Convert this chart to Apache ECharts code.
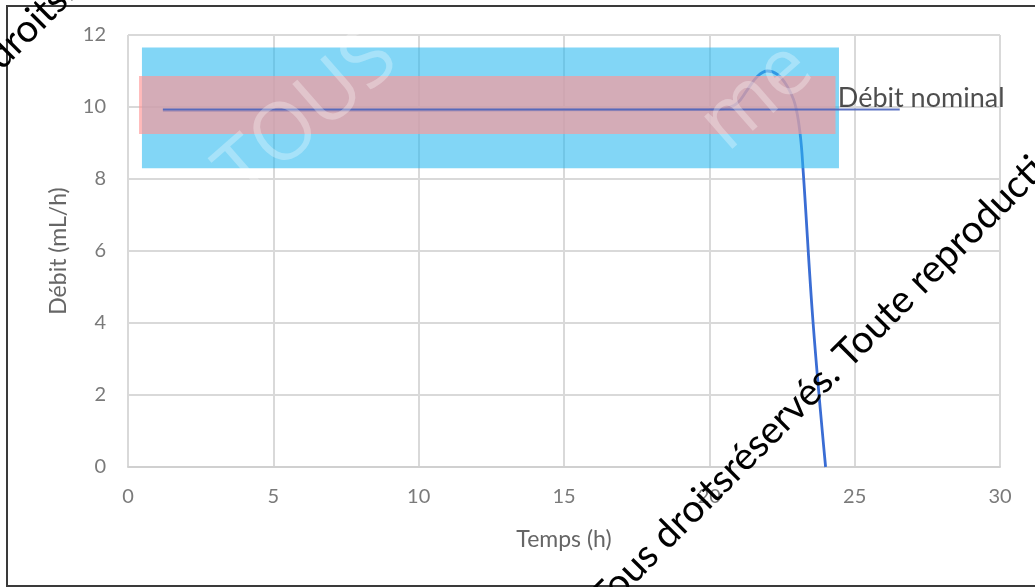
<!DOCTYPE html>
<html>
<head>
<meta charset="utf-8">
<script src="https://cdn.jsdelivr.net/npm/echarts@6/dist/echarts.min.js"></script>
<style>
html,body{margin:0;padding:0;background:#fff;}
#c{width:1035px;height:587px;}
</style>
</head>
<body>
<div id="c"></div>
<script>
// ---- data ----
const curveX = [1.2, 5, 10, 15, 20, 20.5, 20.95, 21.3, 21.65, 22.0, 22.35, 22.66, 22.94, 23.12, 23.23, 23.57, 24.0];
const curveY = [9.9, 9.9, 9.91, 9.92, 9.93, 9.95, 10.1, 10.47, 10.85, 11.0, 10.9, 10.6, 10.1, 9.28, 8.2, 4.0, 0];
const nominalX = [1.2, 26.55];
const nominalY = [9.93, 9.93];
const nominalLabel = 'Débit nominal';
const nominalLabelX = 24.42;
const bandX0 = [0.48, 0.38];
const bandX1 = [24.46, 24.34];
const bandY0 = [8.3, 9.25];
const bandY1 = [11.65, 10.86];
const xTicks = [0, 5, 10, 15, 20, 25, 30];
const yTicks = [0, 2, 4, 6, 8, 10, 12];
const xTitle = 'Temps (h)';
const yTitle = 'Débit (mL/h)';
const watermark = 'Tous droitsréservés. Toute reproduction interdite';

// ---- build ----
const bandColors = ['rgba(40,185,240,0.58)', 'rgba(255,150,150,0.66)'];
const curve = curveX.map((x, i) => [x, curveY[i]]);
const nominal = nominalX.map((x, i) => [x, nominalY[i]]);
const bands = bandX0.map((x, i) => [x, bandY0[i], bandX1[i], bandY1[i]]);

const FONT = 'Lato, "Open Sans", sans-serif';
const wmSize = 38.5;
const ctx = document.createElement('canvas').getContext('2d');
ctx.font = wmSize + 'px Lato';
const pre1 = ctx.measureText('Tous droitsréservés. ').width;
const pre2 = ctx.measureText('Tous ').width;
const ang = Math.PI / 4;
const ux = Math.cos(ang), uy = -Math.sin(ang);
const dx = Math.sin(ang), dy = Math.cos(ang);
const desc = 0.22 * wmSize;
function anchor(bx, by, pre) {
  return [bx - pre * ux + desc * dx, by - pre * uy + desc * dy];
}
const a1 = anchor(848, 369, pre1);
const a2 = anchor(1, 70, pre2);

const chart = echarts.init(document.getElementById('c'), null, {renderer: 'canvas'});
chart.setOption({
  animation: false,
  backgroundColor: '#fff',
  grid: {left: 128, right: 35, top: 35, bottom: 120},
  xAxis: {
    type: 'value', min: xTicks[0], max: xTicks[xTicks.length - 1], interval: 5,
    axisLine: {show: true, lineStyle: {color: '#d0d0d0', width: 2}},
    axisTick: {show: false},
    splitLine: {show: true, lineStyle: {color: '#d9d9d9', width: 2}},
    axisLabel: {color: '#7a7a7a', fontSize: 20, fontFamily: FONT, margin: 20},
    name: xTitle, nameLocation: 'middle', nameGap: 61,
    nameTextStyle: {color: '#666', fontSize: 23, fontFamily: FONT}
  },
  yAxis: {
    type: 'value', min: yTicks[0], max: yTicks[yTicks.length - 1], interval: 2,
    axisLine: {show: false},
    axisTick: {show: false},
    splitLine: {show: true, lineStyle: {color: '#d9d9d9', width: 2}},
    axisLabel: {color: '#7a7a7a', fontSize: 20, fontFamily: FONT, margin: 22},
    name: yTitle, nameLocation: 'middle', nameGap: 58, nameRotate: 90,
    nameTextStyle: {color: '#666', fontSize: 23, fontFamily: FONT}
  },
  series: [
    {
      type: 'line', data: curve, symbol: 'none', z: 2, smooth: 0.4,
      lineStyle: {color: '#3a6dd4', width: 2.8}, silent: true
    },
    {
      type: 'custom', z: 3, silent: true,
      data: bands,
      encode: {x: [0, 2], y: [1, 3]},
      renderItem: function (params, api) {
        const p0 = api.coord([api.value(0), api.value(3)]);
        const p1 = api.coord([api.value(2), api.value(1)]);
        return {
          type: 'rect',
          shape: {x: p0[0], y: p0[1], width: p1[0] - p0[0], height: p1[1] - p0[1]},
          style: {fill: bandColors[params.dataIndex]}
        };
      }
    },
    {
      type: 'line', data: nominal, symbol: 'none', z: 4,
      lineStyle: {color: '#4b64bd', width: 2, opacity: 0.9}, silent: true
    },
    {
      type: 'scatter', z: 6, silent: true,
      data: [{value: [nominalLabelX, nominalY[0]], name: nominalLabel}],
      symbolSize: 0,
      label: {
        show: true, position: 'right', distance: 0, offset: [0, -11],
        formatter: '{b}', color: '#222', fontSize: 27, fontFamily: FONT
      }
    }
  ],
  graphic: [
    {
      type: 'rect', z: 100, silent: true,
      shape: {x: 7, y: 6, width: 1040, height: 580},
      style: {fill: 'none', stroke: '#3a3a3a', lineWidth: 2}
    },
    {
      type: 'text', z: 101, silent: true, x: 308, y: 116, rotation: 0.72,
      style: {text: 'TOUS', fill: 'rgba(255,255,255,0.3)', font: '400 80px "Open Sans"', textAlign: 'center', textVerticalAlign: 'middle'}
    },
    {
      type: 'text', z: 101, silent: true, x: 757, y: 97, rotation: 0.72,
      style: {text: 'me', fill: 'rgba(255,255,255,0.3)', font: '400 80px "Open Sans"', textAlign: 'center', textVerticalAlign: 'middle'}
    },
    {
      type: 'text', z: 102, silent: true, x: a1[0], y: a1[1], rotation: ang,
      style: {text: watermark, fill: '#000', font: wmSize + 'px Lato', textAlign: 'left', textVerticalAlign: 'bottom'}
    },
    {
      type: 'text', z: 102, silent: true, x: a2[0], y: a2[1], rotation: ang,
      style: {text: watermark, fill: '#000', font: wmSize + 'px Lato', textAlign: 'left', textVerticalAlign: 'bottom'}
    }
  ]
});
</script>
</body>
</html>
